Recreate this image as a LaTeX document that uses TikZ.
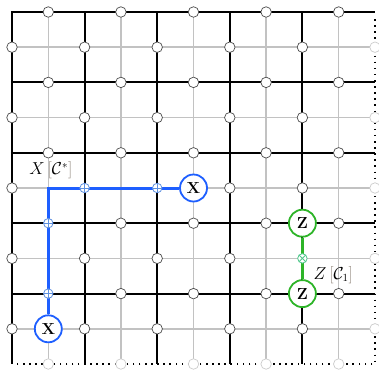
\documentclass[tikz,border=0pt]{standalone}
\definecolor{qblue}{RGB}{30,95,255}
\definecolor{qgreen}{RGB}{45,180,40}
\definecolor{mblue}{RGB}{95,145,225}
\definecolor{mgreen}{RGB}{80,200,140}
\definecolor{brk}{RGB}{150,140,130}
\expandafter\def\csname skip@1@8\endcsname{}
\expandafter\def\csname skip@1@6\endcsname{}
\expandafter\def\csname skip@2@5\endcsname{}
\expandafter\def\csname skip@4@5\endcsname{}
\expandafter\def\csname skip@8@7\endcsname{}
\begin{document}
\begin{tikzpicture}[x=36.3pt,y=-35.2pt,
  blackline/.style={line width=2pt,black},
  grayline/.style={line width=1.5pt,black!24},
  dotline/.style={line width=1.5pt,black,dash pattern=on 1.5pt off 4.6pt},
  qubit/.style={circle,draw=black!70,fill=white,line width=0.7pt,minimum size=10.5pt,inner sep=0pt},
  ghost/.style={circle,draw=black!20,fill=white,line width=0.7pt,minimum size=10.5pt,inner sep=0pt},
  xnode/.style={circle,draw=qblue,fill=white,line width=1.8pt,minimum size=27pt,inner sep=0pt,font=\fontsize{16}{18}\selectfont\bfseries},
  znode/.style={circle,draw=qgreen,fill=white,line width=1.8pt,minimum size=27pt,inner sep=0pt,font=\fontsize{16}{18}\selectfont\bfseries},
  bluepath/.style={line width=3pt,qblue},
  greenpath/.style={line width=3pt,qgreen},
  pmark/.style={circle,draw=mblue,fill=white,line width=0.8pt,minimum size=9.5pt,inner sep=0pt,
    path picture={\draw[mblue,line width=0.8pt] (path picture bounding box.north) -- (path picture bounding box.south)
      (path picture bounding box.west) -- (path picture bounding box.east);}},
  tmark/.style={circle,draw=mgreen,fill=white,line width=0.8pt,minimum size=9.5pt,inner sep=0pt,
    path picture={\draw[mgreen,line width=0.8pt] (path picture bounding box.north west) -- (path picture bounding box.south east)
      (path picture bounding box.south west) -- (path picture bounding box.north east);}},
  lbl/.style={font=\fontsize{16}{18}\selectfont,inner sep=0pt}
]
\useasboundingbox (-0.3306,-0.3409) rectangle (10.110,10.199);
\clip (-0.3306,-0.3409) rectangle (10.110,10.199);
% gray dual lattice
\foreach \i in {1,3,5,7,9} \draw[grayline] (\i,0) -- (\i,10);
\foreach \j in {1,3,5,7,9} \draw[grayline] (0,\j) -- (10,\j);
% black primal lattice
\foreach \i in {0,2,4,6,8} \draw[blackline] (\i,-0.028) -- (\i,10);
\foreach \j in {0,2,4,6,8} \draw[blackline] (-0.028,\j) -- (10,\j);
% dotted boundary
\draw[dotline] (10,0.2) -- (10,10) -- (0.05,10);
% qubits
\foreach \i in {0,...,10}{
  \foreach \j in {0,...,10}{
    \ifodd\numexpr\i+\j\relax
      \ifcsname skip@\i @\j\endcsname\else
        \pgfmathtruncatemacro\edg{(\i==10)||(\j==10)}
        \ifnum\edg=1
          \node[ghost] (q-\i-\j) at (\i,\j) {};
        \else
          \node[qubit] (q-\i-\j) at (\i,\j) {};
        \fi
      \fi
    \fi
  }
}
% X string
\node[xnode] (X1) at (1,9) {X};
\node[xnode] (X2) at (5,5) {X};
\coordinate (corner) at (1,5);
\draw[bluepath] (X1) -- (corner) -- (X2);
\node[pmark] (p18) at (1,8) {};
\node[pmark] (p16) at (1,6) {};
\node[pmark] (p25) at (2,5) {};
\node[pmark] (p45) at (4,5) {};
\node[lbl] (lx) at (1.07,4.49) {$X\,\textcolor{brk}{[}\mathcal{C}^*\textcolor{brk}{]}$};
% Z string
\node[znode] (Z1) at (8,6) {Z};
\node[znode] (Z2) at (8,8) {Z};
\draw[greenpath] (Z1) -- (Z2);
\node[tmark] (t87) at (8,7) {};
\node[lbl] (lz) at (8.85,7.47) {$Z\,\textcolor{brk}{[}\mathcal{C}_1\textcolor{brk}{]}$};
\end{tikzpicture}
\end{document}
